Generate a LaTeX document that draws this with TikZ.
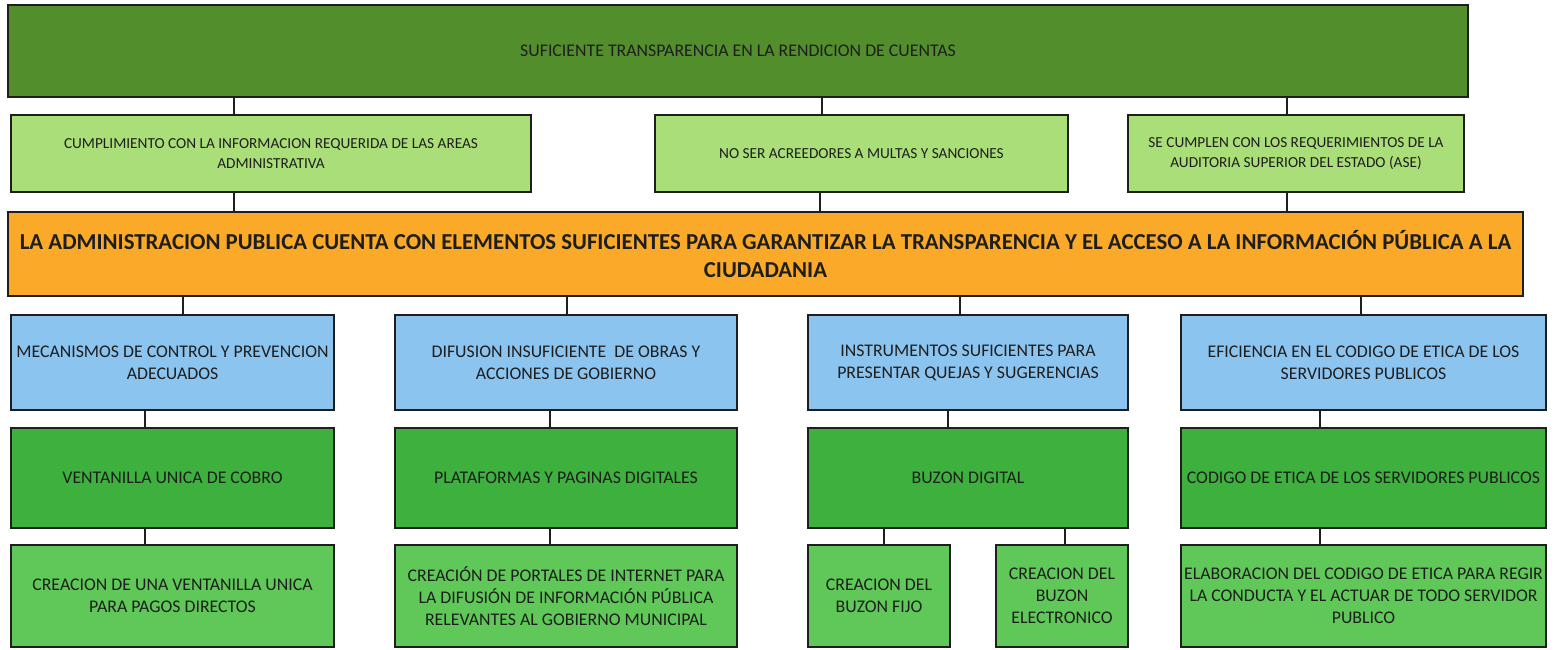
\documentclass[tikz,border=0pt]{standalone}
\usepackage{fontspec}
\setmainfont{Carlito}
\definecolor{topgreen}{RGB}{82,142,44}
\definecolor{ltgreen}{RGB}{170,222,120}
\definecolor{orng}{RGB}{250,170,40}
\definecolor{blu}{RGB}{140,196,240}
\definecolor{grnA}{RGB}{62,176,62}
\definecolor{grnB}{RGB}{96,200,88}
\definecolor{ink}{RGB}{30,30,30}
\tikzset{
  box/.style={draw=ink, line width=1pt, rectangle, inner sep=0pt, align=center, text=ink},
  toptxt/.style={font=\fontsize{8.9}{11}\selectfont},
  small/.style={font=\fontsize{7.65}{10}\selectfont},
  med/.style={font=\fontsize{8.9}{10.9}\selectfont},
  big/.style={font=\fontsize{11.4}{14}\selectfont\bfseries},
  link/.style={draw=ink, line width=1pt}
}
\begin{document}
\begin{tikzpicture}[x=0.5pt,y=-0.5pt]
\useasboundingbox (0,0) rectangle (1554,649);
\fill[white] (0,0) rectangle (1554,649);
% top
\node[box, toptxt, fill=topgreen, minimum width=730pt, minimum height=46pt] (top) at (738,51) {SUFICIENTE TRANSPARENCIA EN LA RENDICION DE CUENTAS};
% row 2
\node[box, small, fill=ltgreen, minimum width=260pt, minimum height=38.5pt] (ra) at (271,153.5) {CUMPLIMIENTO CON LA INFORMACION REQUERIDA DE LAS AREAS\\ADMINISTRATIVA};
\node[box, small, fill=ltgreen, minimum width=206.5pt, minimum height=38.5pt] (rb) at (861.5,153.5) {NO SER ACREEDORES A MULTAS Y SANCIONES};
\node[box, small, fill=ltgreen, minimum width=168pt, minimum height=38.5pt] (rc) at (1296,153.5) {SE CUMPLEN CON LOS REQUERIMIENTOS DE LA\\AUDITORIA SUPERIOR DEL ESTADO (ASE)};
% orange
\node[box, big, fill=orng, minimum width=757.5pt, minimum height=42pt] (core) at (765.5,254) {LA ADMINISTRACION PUBLICA CUENTA CON ELEMENTOS SUFICIENTES PARA GARANTIZAR LA TRANSPARENCIA Y EL ACCESO A LA INFORMACIÓN PÚBLICA A LA\\CIUDADANIA};
% blue row
\node[box, med, fill=blu, minimum width=161.5pt, minimum height=47.5pt] (b1) at (172.5,362.5) {MECANISMOS DE CONTROL Y PREVENCION\\ADECUADOS};
\node[box, med, fill=blu, minimum width=171pt, minimum height=47.5pt] (b2) at (566,362.5) {DIFUSION INSUFICIENTE\ \ DE OBRAS Y\\ACCIONES DE GOBIERNO};
\node[box, med, fill=blu, minimum width=160pt, minimum height=47.5pt] (b3) at (968,362.5) {INSTRUMENTOS SUFICIENTES PARA\\PRESENTAR QUEJAS Y SUGERENCIAS};
\node[box, med, fill=blu, minimum width=182.5pt, minimum height=47.5pt] (b4) at (1363.5,362.5) {EFICIENCIA EN EL CODIGO DE ETICA DE LOS\\SERVIDORES PUBLICOS};
% green row 1
\node[box, med, fill=grnA, minimum width=161.5pt, minimum height=50pt] (g1) at (172.5,478) {VENTANILLA UNICA DE COBRO};
\node[box, med, fill=grnA, minimum width=171pt, minimum height=50pt] (g2) at (566,478) {PLATAFORMAS Y PAGINAS DIGITALES};
\node[box, med, fill=grnA, minimum width=160pt, minimum height=50pt] (g3) at (968,478) {BUZON DIGITAL};
\node[box, med, fill=grnA, minimum width=182.5pt, minimum height=50pt] (g4) at (1363.5,478) {CODIGO DE ETICA DE LOS SERVIDORES PUBLICOS};
% green row 2
\node[box, med, fill=grnB, minimum width=161.5pt, minimum height=51pt] (h1) at (172.5,596) {CREACION DE UNA VENTANILLA UNICA\\PARA PAGOS DIRECTOS};
\node[box, med, fill=grnB, minimum width=171pt, minimum height=51pt] (h2) at (566,596) {CREACIÓN DE PORTALES DE INTERNET PARA\\LA DIFUSIÓN DE INFORMACIÓN PÚBLICA\\RELEVANTES AL GOBIERNO MUNICIPAL};
\node[box, med, fill=grnB, minimum width=71pt, minimum height=51pt] (h3a) at (879,596) {CREACION DEL\\BUZON FIJO};
\node[box, med, fill=grnB, minimum width=66pt, minimum height=51pt] (h3b) at (1062,596) {CREACION DEL\\BUZON\\ELECTRONICO};
\node[box, med, fill=grnB, minimum width=182.5pt, minimum height=51pt] (h4) at (1363.5,596) {ELABORACION DEL CODIGO DE ETICA PARA REGIR\\LA CONDUCTA Y EL ACTUAR DE TODO SERVIDOR\\PUBLICO};
% connectors
\draw[link] (top.south -| 234,0) -- (ra.north -| 234,0);
\draw[link] (top.south -| 822,0) -- (rb.north -| 822,0);
\draw[link] (top.south -| 1287,0) -- (rc.north -| 1287,0);
\draw[link] (ra.south -| 234,0) -- (core.north -| 234,0);
\draw[link] (rb.south -| 820,0) -- (core.north -| 820,0);
\draw[link] (rc.south -| 1287,0) -- (core.north -| 1287,0);
\draw[link] (core.south -| 183,0) -- (b1.north -| 183,0);
\draw[link] (core.south -| 567,0) -- (b2.north -| 567,0);
\draw[link] (core.south -| 960,0) -- (b3.north -| 960,0);
\draw[link] (core.south -| 1361,0) -- (b4.north -| 1361,0);
\draw[link] (b1.south -| 145,0) -- (g1.north -| 145,0);
\draw[link] (b2.south -| 550,0) -- (g2.north -| 550,0);
\draw[link] (b3.south -| 948,0) -- (g3.north -| 948,0);
\draw[link] (b4.south -| 1320,0) -- (g4.north -| 1320,0);
\draw[link] (g1.south -| 145,0) -- (h1.north -| 145,0);
\draw[link] (g2.south -| 550,0) -- (h2.north -| 550,0);
\draw[link] (g3.south -| 884,0) -- (h3a.north -| 884,0);
\draw[link] (g3.south -| 1065,0) -- (h3b.north -| 1065,0);
\draw[link] (g4.south -| 1320,0) -- (h4.north -| 1320,0);
\end{tikzpicture}
\end{document}
